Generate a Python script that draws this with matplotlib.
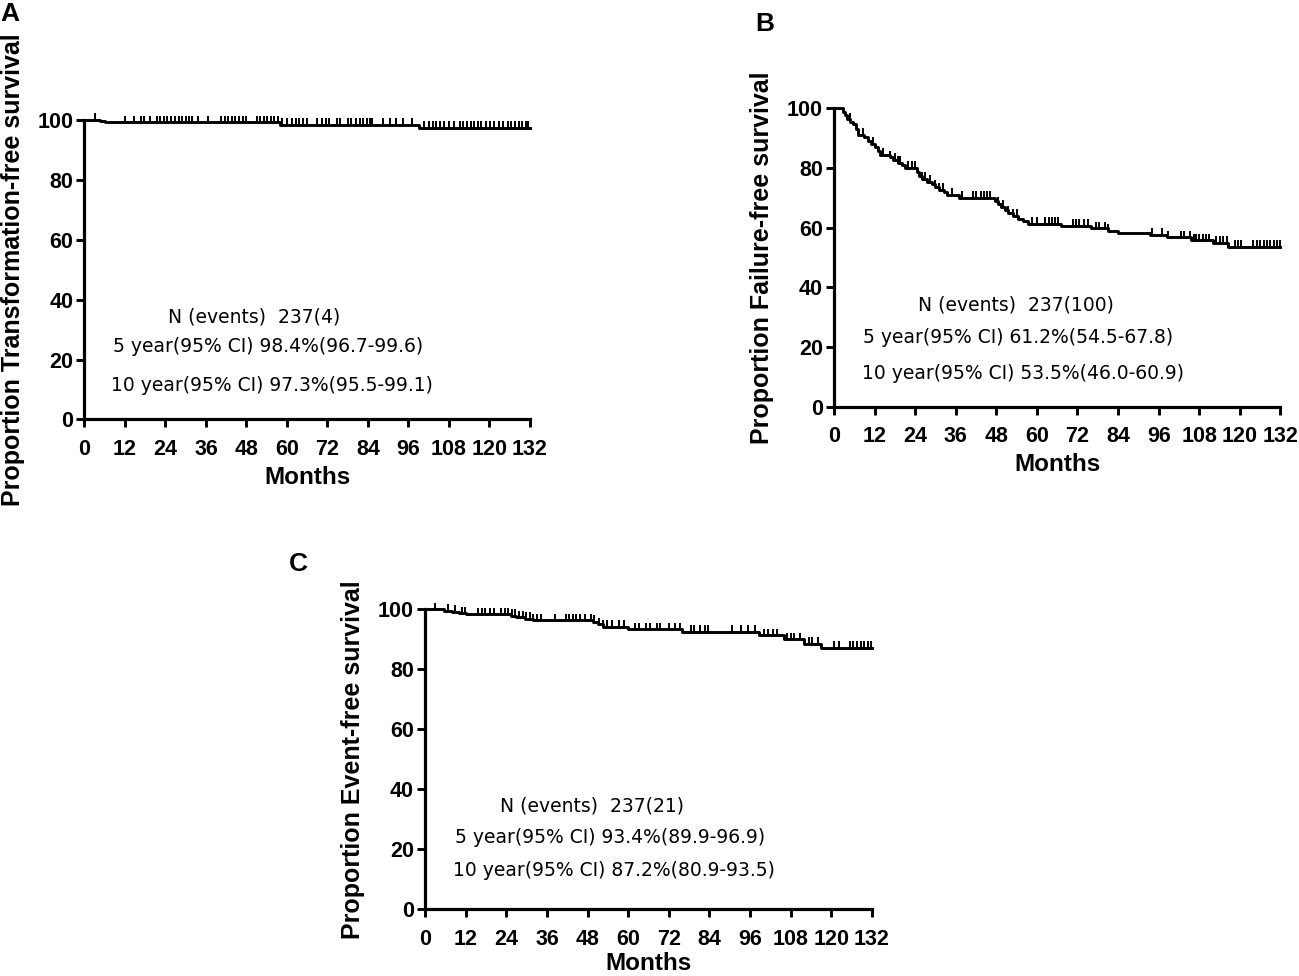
import numpy as np
import matplotlib
matplotlib.use("Agg")
import matplotlib.pyplot as plt

# ---- data (months, % surviving) ----
# A: transformation-free survival
A_event_t = [0, 4.5, 6.0, 58.0, 99.0]
A_event_s = [100, 99.6, 99.2, 98.4, 97.3]
A_cens = [3.0, 11.9, 14.6, 16.7, 17.7, 19.3, 21.4, 22.5, 23.6, 24.6, 25.7, 26.8,
          27.9, 29.0, 30.0, 31.0, 32.0, 33.6, 36.7, 40.4, 41.5, 42.6, 43.7, 44.7,
          45.8, 46.9, 48.0, 51.0, 52.0, 53.1, 54.2, 55.2, 56.3, 57.3, 58.4, 60.0,
          61.6, 62.6, 63.7, 64.8, 65.8, 69.0, 70.5, 71.6, 72.6, 74.8, 75.8, 78.0,
          79.0, 80.6, 81.5, 82.6, 83.7, 84.7, 85.3, 88.5, 90.6, 92.2, 94.3, 97.0,
          100.5, 102.2, 103.3, 104.3, 105.4, 106.4, 108.0, 109.6, 111.2, 112.2,
          113.3, 114.4, 115.4, 116.5, 117.5, 119.1, 120.2, 121.2, 122.8, 123.9,
          125.4, 126.5, 127.6, 128.6, 129.7, 130.8, 131.3]

# B: failure-free survival
B_event_t = [0, 2.8, 3.3, 4.0, 4.8, 5.5, 6.5, 7.0, 9.0, 10.0, 11.0, 12.0, 13.0,
             13.5, 16.5, 17.5, 19.0, 20.0, 21.0, 24.5, 25.0, 26.0, 27.5, 29.0,
             30.0, 31.0, 32.5, 33.5, 37.0, 47.5, 48.5, 49.5, 50.5, 51.5, 53.0,
             54.5, 56.0, 57.5, 67.0, 76.0, 81.0, 84.0, 93.5, 98.5, 105.5, 112.0,
             116.5]
B_event_s = [100, 98.7, 97.5, 96.2, 95.4, 94.5, 92.8, 91.1, 90.2, 89.0, 88.0,
             86.9, 85.6, 84.4, 83.5, 82.6, 81.7, 80.8, 79.9, 78.5, 77.2, 76.3,
             75.4, 74.5, 73.6, 72.7, 71.8, 70.9, 70.0, 69.0, 68.0, 67.0, 66.0,
             65.0, 64.0, 63.0, 62.1, 61.2, 60.5, 59.8, 59.0, 58.3, 57.5, 56.7,
             55.8, 55.0, 53.5]
B_cens = [4.7, 8.5, 11.6, 14.5, 16.6, 18.0, 19.0, 19.6, 22.0, 23.0, 24.0, 26.0,
          27.0, 28.4, 30.0, 31.2, 32.3, 35.0, 38.0, 41.0, 42.0, 43.5, 44.5, 45.2,
          46.0, 48.6, 50.0, 51.5, 53.0, 54.0, 58.5, 60.0, 62.4, 63.5, 64.5, 65.5,
          66.3, 70.7, 71.5, 72.5, 74.0, 75.2, 77.6, 78.5, 80.0, 81.0, 94.0, 97.0,
          98.9, 102.5, 103.5, 105.2, 106.5, 107.0, 108.0, 109.0, 110.0, 111.0,
          113.0, 114.0, 115.0, 116.3, 118.7, 119.5, 120.3, 124.0, 125.0, 126.0,
          127.0, 128.0, 129.0, 130.0, 131.0, 132.0]

# C: event-free survival
C_event_t = [0, 5.5, 8.0, 10.0, 12.0, 25.5, 27.0, 29.5, 32.0, 49.5, 51.0, 52.5,
             60.0, 76.0, 98.5, 106.0, 112.0, 117.0]
C_event_s = [100, 99.6, 99.2, 98.7, 98.3, 97.8, 97.3, 96.9, 96.4, 95.9, 95.0,
             94.2, 93.4, 92.5, 91.4, 90.0, 88.6, 87.2]
C_cens = [3.0, 6.7, 8.8, 10.9, 11.9, 15.6, 16.7, 17.7, 19.3, 20.4, 22.5, 23.5,
          24.6, 25.7, 26.7, 27.8, 28.8, 29.9, 30.9, 32.0, 33.0, 34.1, 38.3, 41.5,
          42.6, 43.6, 44.7, 45.7, 47.3, 48.9, 49.9, 51.5, 52.6, 53.6, 55.2, 57.3,
          58.9, 62.1, 63.1, 65.3, 66.3, 68.4, 69.5, 72.1, 73.7, 75.3, 78.5, 79.5,
          81.1, 82.7, 83.7, 90.6, 93.2, 95.4, 97.5, 100.1, 101.2, 102.7, 103.8,
          107.0, 108.0, 109.1, 110.7, 113.3, 114.4, 116.0, 120.7, 122.3, 125.4,
          126.5, 127.6, 128.6, 129.7, 130.8, 131.8]

ylabels = ["Proportion Transformation-free survival",
           "Proportion Failure-free survival",
           "Proportion Event-free survival"]
notes = [["N (events)  237(4)", "5 year(95% CI) 98.4%(96.7-99.6)",
          "10 year(95% CI) 97.3%(95.5-99.1)"],
         ["N (events)  237(100)", "5 year(95% CI) 61.2%(54.5-67.8)",
          "10 year(95% CI) 53.5%(46.0-60.9)"],
         ["N (events)  237(21)", "5 year(95% CI) 93.4%(89.9-96.9)",
          "10 year(95% CI) 87.2%(80.9-93.5)"]]
note_pos = [[(24.7, 34.2), (8.6, 24.2), (7.9, 11.5)],
            [(24.8, 34.0), (8.6, 23.3), (8.3, 11.3)],
            [(22.2, 34.4), (8.9, 23.8), (8.3, 13.1)]]
letters = ["A", "B", "C"]
xticks = np.arange(0, 133, 12)
yticks = np.arange(0, 101, 20)
t_end = 132

BOLD = "Liberation Sans"

fig = plt.figure(figsize=(12.99, 9.76), dpi=100)
rects = [[0.0650, 0.5702, 0.3430, 0.3069],
         [0.6420, 0.5830, 0.3437, 0.3064],
         [0.3272, 0.0683, 0.3441, 0.3074]]
xlab_y = [-0.155, -0.155, -0.142]
curves = [(A_event_t, A_event_s, A_cens),
          (B_event_t, B_event_s, B_cens),
          (C_event_t, C_event_s, C_cens)]

for i, (rect, (et, es, cens)) in enumerate(zip(rects, curves)):
    ax = fig.add_axes(rect)
    et = np.array(et)
    es = np.array(es)
    tt = np.append(et, t_end)
    ss = np.append(es, es[-1])
    ax.step(tt, ss, where="post", color="black", lw=2.1, clip_on=False)
    cens = np.array(cens)
    cs = es[np.searchsorted(et, cens, side="right") - 1]
    ax.vlines(cens, cs, cs + 2.2, color="black", lw=1.4, clip_on=False)

    ax.set_xlim(0, 132)
    ax.set_ylim(0, 100)
    ax.set_xticks(xticks)
    ax.set_yticks(yticks)
    for s in ["top", "right"]:
        ax.spines[s].set_visible(False)
    for s in ["left", "bottom"]:
        ax.spines[s].set_linewidth(2.3)
    ax.tick_params(axis="both", length=6, width=2.1, direction="out")
    ax.tick_params(axis="x", pad=8)
    ax.tick_params(axis="y", pad=2)
    for lab in ax.get_xticklabels() + ax.get_yticklabels():
        lab.set_fontfamily(BOLD)
        lab.set_fontweight("bold")
        lab.set_fontsize(15.5)

    ax.set_xlabel("Months", fontfamily=BOLD, fontweight="bold", fontsize=17.5)
    ax.xaxis.set_label_coords(0.5, xlab_y[i])
    ax.set_ylabel(ylabels[i], fontfamily=BOLD, fontweight="bold", fontsize=18)
    ax.yaxis.set_label_coords(-0.134, 0.5)

    for txt, (x, y) in zip(notes[i], note_pos[i]):
        ax.text(x, y, txt, fontfamily="DejaVu Sans", fontsize=13.5,
                ha="left", va="center")

fig.text(0.0, 1 - 2 / 976, "A", fontfamily=BOLD, fontweight="bold",
         fontsize=19, ha="left", va="top")
fig.text(755 / 1299, 1 - 12 / 976, "B", fontfamily=BOLD, fontweight="bold",
         fontsize=19, ha="left", va="top")
fig.text(289 / 1299, 1 - 552 / 976, "C", fontfamily=BOLD, fontweight="bold",
         fontsize=19, ha="left", va="top")

fig.savefig("out.png", dpi=100, facecolor="white")
